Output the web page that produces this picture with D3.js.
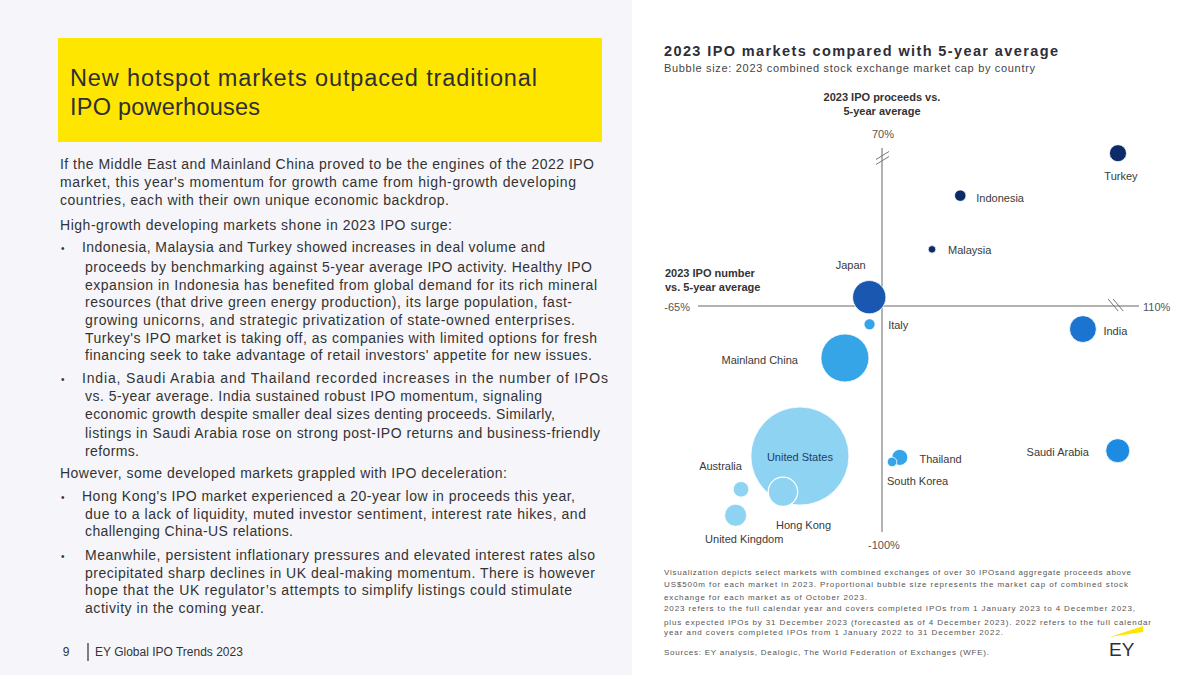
<!DOCTYPE html>
<html>
<head>
<meta charset="utf-8">
<script src="https://cdn.jsdelivr.net/npm/d3@7"></script>
<style>
  body { margin: 0; background: #fff; }
  svg { display: block; font-family: "Liberation Sans", Arial, sans-serif; }
</style>
</head>
<body>
<svg id="main"></svg>
<script>
// chart data
var markets = ["Turkey", "Indonesia", "Malaysia", "Japan", "Italy", "India", "Mainland China",
  "United States", "Hong Kong", "Australia", "United Kingdom", "Thailand", "South Korea", "Saudi Arabia"];
// % change in 2023 IPO number vs 5-year average (x)
var numberChange = [101, 33.5, 21.4, -4.5, -4.4, 86, -13.1, -29, -35, -49.8, -51.7, 7.6, 4.3, 100.9];
// % change in 2023 IPO proceeds vs 5-year average (y)
var proceedsChange = [67.7, 48.9, 25.1, 3.9, -8.1, -10.2, -23, -66.4, -82.2, -81.1, -92.6, -67, -69, -64];
// combined exchange market cap, US$tn (bubble size)
var marketCap = [1.36, 0.61, 0.27, 5.2, 0.57, 3.37, 10.8, 45, 4.05, 1.14, 2.27, 1.2, 0.43, 2.7];

var xTicks = [-65, 110];
var yTicks = [-100, 70];

var chart = { width: 1200, height: 675 };

var colour = {
  "Turkey": "#0c2b68", "Indonesia": "#0c2b68", "Malaysia": "#0c2b68",
  "Japan": "#1957b0", "India": "#1a74d0", "Saudi Arabia": "#1e8be3",
  "Mainland China": "#36a5e8", "Italy": "#36a5e8", "Thailand": "#36a5e8", "South Korea": "#36a5e8",
  "United States": "#8ed3f1", "Hong Kong": "#8ed3f1", "Australia": "#8ed3f1", "United Kingdom": "#8ed3f1"
};

// label placement relative to bubble centre
var labelAt = {
  "Turkey": [3, 23, "middle"], "Indonesia": [16, 2, "start"], "Malaysia": [16, 1, "start"],
  "Japan": [-18.6, -32, "middle"], "Italy": [18.6, 1, "start"], "India": [20.5, 2, "start"],
  "Mainland China": [-47, 2, "end"], "United States": [0, 1.3, "middle"],
  "Hong Kong": [20.6, 33, "middle"], "Australia": [-20.5, -23.3, "middle"],
  "United Kingdom": [8.6, 23.7, "middle"], "Thailand": [19.7, 1.7, "start"],
  "South Korea": [-5, 18.7, "start"], "Saudi Arabia": [-28.8, 1, "end"]
};

var svg = d3.select("#main")
  .attr("width", chart.width)
  .attr("height", chart.height);

// left panel
svg.append("rect").attr("x", 0).attr("y", 0).attr("width", 632).attr("height", chart.height).attr("fill", "#f6f6fa");
svg.append("rect").attr("x", 58).attr("y", 38).attr("width", 544).attr("height", 104).attr("fill", "#ffe600");

svg.append("g").selectAll("text")
  .data([["New hotspot markets outpaced traditional", 467], ["IPO powerhouses", 190]])
  .join("text")
  .attr("x", 70).attr("y", function(d, i) { return 86 + i * 29; })
  .attr("font-size", 23.5).attr("fill", "#2e2e38")
  .attr("textLength", function(d) { return d[1]; }).attr("lengthAdjust", "spacing")
  .text(function(d) { return d[0]; });

// [x, baseline, text, right end]
var body = [
  [60, 169, "If the Middle East and Mainland China proved to be the engines of the 2022 IPO", 594],
  [60, 187, "market, this year's momentum for growth came from high-growth developing", 576],
  [60, 205, "countries, each with their own unique economic backdrop.", 449],
  [60, 230, "High-growth developing markets shone in 2023 IPO surge:", 452],
  [61, 252, "\u2022"],
  [82, 252, "Indonesia, Malaysia and Turkey showed increases in deal volume and", 545],
  [85, 272, "proceeds by benchmarking against 5-year average IPO activity. Healthy IPO", 592],
  [85, 290, "expansion in Indonesia has benefited from global demand for its rich mineral", 597],
  [85, 307, "resources (that drive green energy production), its large population, fast-", 572],
  [85, 325, "growing unicorns, and strategic privatization of state-owned enterprises.", 575],
  [85, 343, "Turkey's IPO market is taking off, as companies with limited options for fresh", 597],
  [85, 360, "financing seek to take advantage of retail investors' appetite for new issues.", 592],
  [61, 383, "\u2022"],
  [82, 383, "India, Saudi Arabia and Thailand recorded increases in the number of IPOs", 608],
  [85, 401, "vs. 5-year average. India sustained robust IPO momentum, signaling", 542],
  [85, 419, "economic growth despite smaller deal sizes denting proceeds. Similarly,", 555],
  [85, 438, "listings in Saudi Arabia rose on strong post-IPO returns and business-friendly", 600],
  [85, 456, "reforms.", 139],
  [60, 478, "However, some developed markets grappled with IPO deceleration:", 507],
  [61, 501, "\u2022"],
  [82, 501, "Hong Kong's IPO market experienced a 20-year low in proceeds this year,", 575],
  [85, 519, "due to a lack of liquidity, muted investor sentiment, interest rate hikes, and", 586],
  [85, 536, "challenging China-US relations.", 293],
  [61, 560, "\u2022"],
  [85, 560, "Meanwhile, persistent inflationary pressures and elevated interest rates also", 595],
  [85, 578, "precipitated sharp declines in UK deal-making momentum. There is however", 595],
  [85, 595, "hope that the UK regulator\u2019s attempts to simplify listings could stimulate", 572],
  [85, 613, "activity in the coming year.", 264]
];
svg.append("g").selectAll("text")
  .data(body)
  .join("text")
  .attr("x", function(d) { return d[0]; }).attr("y", function(d) { return d[1]; })
  .attr("font-size", function(d) { return d[3] ? 14 : 10; })
  .attr("fill", "#333")
  .each(function(d) {
    if (d[3]) d3.select(this).attr("textLength", d[3] - d[0]).attr("lengthAdjust", "spacing");
  })
  .text(function(d) { return d[2]; });

// footer
svg.append("text").attr("x", 66).attr("y", 656).attr("text-anchor", "middle").attr("font-size", 12).attr("fill", "#333").text("9");
svg.append("line").attr("x1", 88).attr("x2", 88).attr("y1", 643).attr("y2", 661).attr("stroke", "#2e2e38").attr("stroke-width", 1.2);
svg.append("text").attr("x", 95).attr("y", 656).attr("font-size", 12).attr("fill", "#333").text("EY Global IPO Trends 2023");

// chart heading
svg.append("text").attr("x", 664).attr("y", 56).attr("font-size", 14.5).attr("font-weight", "bold")
  .attr("fill", "#2e2e38").attr("textLength", 394).attr("lengthAdjust", "spacing")
  .text("2023 IPO markets compared with 5-year average");
svg.append("text").attr("x", 664).attr("y", 72).attr("font-size", 11).attr("fill", "#444")
  .attr("textLength", 371).attr("lengthAdjust", "spacing")
  .text("Bubble size: 2023 combined stock exchange market cap by country");

// scales (axes are broken, so piecewise)
var x = d3.scaleLinear().domain([-65, 0, 110]).range([698, 882, 1139]);
var y = d3.scaleLinear().domain([-100, 0, 70]).range([532, 306, 148]);
var r = d3.scaleSqrt().domain([0, 45]).range([0, 49]);

var axes = svg.append("g").attr("stroke", "#9a9a9a").attr("stroke-width", 1.5);
axes.append("line").attr("x1", x(xTicks[0])).attr("x2", x(xTicks[1])).attr("y1", y(0)).attr("y2", y(0));
axes.append("line").attr("x1", x(0)).attr("x2", x(0)).attr("y1", y(yTicks[1])).attr("y2", y(yTicks[0]));

// break marks
var brk = svg.append("g").attr("stroke", "#777").attr("stroke-width", 1);
[-2.5, 2.5].forEach(function(o) {
  brk.append("line").attr("x1", x(0) - 6).attr("y1", y(70) + 14 + o).attr("x2", x(0) + 7).attr("y2", y(70) + 6 + o);
  brk.append("line").attr("x1", x(100) - 5 + o).attr("y1", y(0) - 7).attr("x2", x(100) + 5 + o).attr("y2", y(0) + 5);
});

var tickStyle = function(s) { return s.attr("font-size", 11).attr("fill", "#555").attr("dominant-baseline", "central"); };
svg.append("text").attr("x", x(0) + 1).attr("y", y(70) - 14).attr("text-anchor", "middle").call(tickStyle).text(yTicks[1] + "%");
svg.append("text").attr("x", x(0) + 2).attr("y", y(-100) + 13).attr("text-anchor", "middle").call(tickStyle).text(yTicks[0] + "%");
svg.append("text").attr("x", x(-65) - 8).attr("y", y(0) + 1).attr("text-anchor", "end").call(tickStyle).text(xTicks[0] + "%");
svg.append("text").attr("x", x(110) + 4).attr("y", y(0) + 1).attr("text-anchor", "start").call(tickStyle).text(xTicks[1] + "%");

var axTitle = function(s) { return s.attr("font-size", 11).attr("font-weight", "bold").attr("fill", "#333").attr("dominant-baseline", "central"); };
svg.append("text").attr("x", 882).attr("y", 97).attr("text-anchor", "middle").call(axTitle).text("2023 IPO proceeds vs.");
svg.append("text").attr("x", 882).attr("y", 111).attr("text-anchor", "middle").call(axTitle).text("5-year average");
svg.append("text").attr("x", 665).attr("y", 273).call(axTitle).text("2023 IPO number");
svg.append("text").attr("x", 665).attr("y", 287).call(axTitle).text("vs. 5-year average");

// bubbles
var data = markets.map(function(m, i) {
  return { name: m, nx: numberChange[i], py: proceedsChange[i], cap: marketCap[i] };
});
var order = data.slice().sort(function(a, b) { return b.cap - a.cap; });

svg.append("g").selectAll("circle")
  .data(order)
  .join("circle")
  .attr("cx", function(d) { return x(d.nx); })
  .attr("cy", function(d) { return y(d.py); })
  .attr("r", function(d) { return r(d.cap); })
  .attr("fill", function(d) { return colour[d.name]; })
  .attr("stroke", "#fff")
  .attr("stroke-width", function(d) { return d.name == "Hong Kong" ? 1.3 : 0.8; });

svg.append("g").selectAll("text")
  .data(data)
  .join("text")
  .attr("x", function(d) { return x(d.nx) + labelAt[d.name][0]; })
  .attr("y", function(d) { return y(d.py) + labelAt[d.name][1]; })
  .attr("text-anchor", function(d) { return labelAt[d.name][2]; })
  .attr("dominant-baseline", "central")
  .attr("font-size", 11)
  .attr("fill", function(d) { return d.name == "United States" ? "#1d3f66" : "#3a3a3a"; })
  .text(function(d) { return d.name; });

// notes
var notes = [
  [572, 467, "Visualization depicts select markets with combined exchanges of over 30 IPOsand aggregate proceeds above"],
  [584, 464, "US$500m for each market in 2023. Proportional bubble size represents the market cap of combined stock"],
  [597, 203, "exchange for each market as of October 2023."],
  [608, 471, "2023 refers to the full calendar year and covers completed IPOs from 1 January 2023 to 4 December 2023,"],
  [622, 487, "plus expected IPOs by 31 December 2023 (forecasted as of 4 December 2023). 2022 refers to the full calendar"],
  [632, 339, "year and covers completed IPOs from 1 January 2022 to 31 December 2022."],
  [652, 325, "Sources: EY analysis, Dealogic, The World Federation of Exchanges (WFE)."]
];
svg.append("g").selectAll("text")
  .data(notes)
  .join("text")
  .attr("x", 664).attr("y", function(d) { return d[0]; })
  .attr("dominant-baseline", "central")
  .attr("font-size", 8).attr("fill", "#555")
  .attr("textLength", function(d) { return d[1]; }).attr("lengthAdjust", "spacing")
  .text(function(d) { return d[2]; });

// EY logo
svg.append("polygon").attr("points", "1110,637 1143,626 1143,632").attr("fill", "#ffe600");
svg.append("text").attr("x", 1109).attr("y", 649).attr("dominant-baseline", "central")
  .attr("font-size", 19).attr("fill", "#2e2e38").text("EY");
</script>
</body>
</html>
